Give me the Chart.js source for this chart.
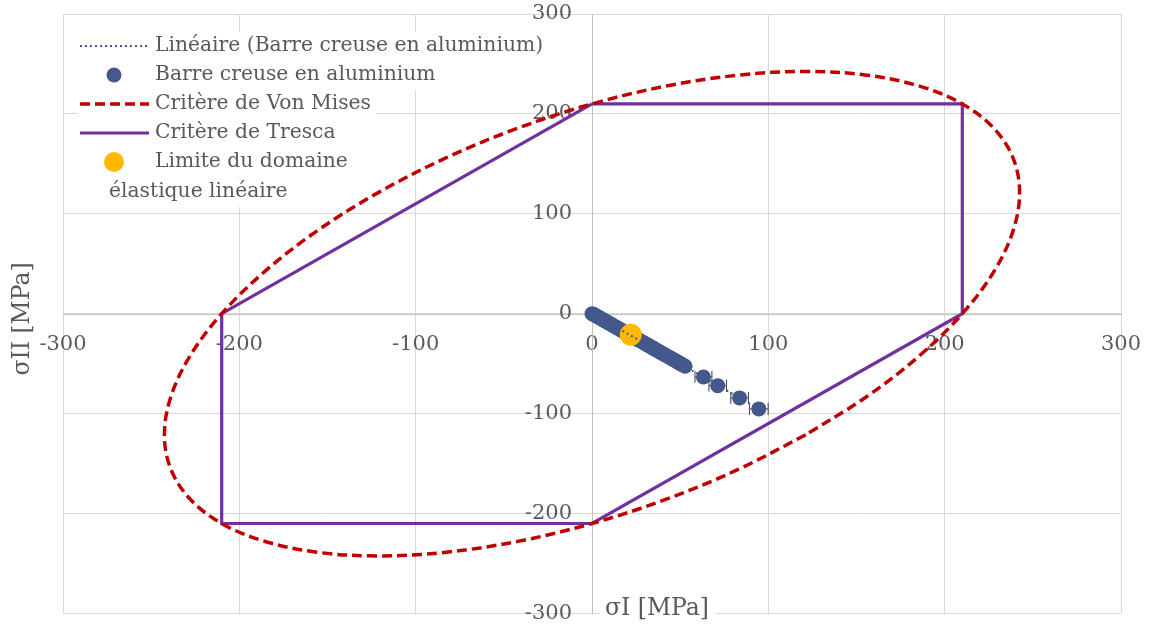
<!DOCTYPE html>
<html>
<head>
<meta charset="utf-8">
<script src="https://cdn.jsdelivr.net/npm/chart.js@4.4.0/dist/chart.umd.min.js"></script>
<style>
  html, body { margin: 0; padding: 0; background: #fff; }
</style>
</head>
<body>
<canvas id="chart" width="1149" height="626"></canvas>
<script>
// graduations des deux axes
const axisTicks = [-300, -200, -100, 0, 100, 200, 300];

// mesures : barre creuse en aluminium (MPa)
const sigmaI = [0, 1.1, 2.3, 3.4, 4.6, 5.9, 7.1, 8.4, 9.6, 10.9, 12.1, 13.4, 14.6, 15.9, 17.2, 18.4,
  19.7, 21.0, 22.3, 23.5, 24.8, 26.1, 27.3, 28.6, 29.9, 31.1, 32.4, 33.7, 34.9, 36.2, 37.5, 38.7,
  40.0, 41.3, 42.5, 43.8, 45.1, 46.3, 47.6, 48.9, 50.1, 51.4, 52.8, 63.2, 71.3, 83.7, 94.6];
const sigmaII = [0, -0.9, -2.1, -3.2, -4.4, -5.7, -6.9, -8.2, -9.4, -10.7, -11.9, -13.2, -14.4, -15.7, -17.0, -18.2,
  -19.5, -20.8, -22.1, -23.3, -24.6, -25.9, -27.1, -28.4, -29.7, -30.9, -32.2, -33.5, -34.7, -36.0, -37.3, -38.5,
  -39.8, -41.1, -42.3, -43.6, -44.9, -46.1, -47.4, -48.7, -49.9, -51.2, -52.6, -63.3, -72.0, -84.3, -95.3];
// incertitude sur sigmaI (barres d'erreur horizontales)
const errI = [0, 0, 0, 0, 0, 0, 0, 0, 0, 0, 0, 0, 0, 0, 0, 0,
  0, 0, 0, 0, 0, 0, 0, 0, 0, 0, 0, 0, 0, 0, 0, 0,
  0, 0, 0, 0, 0, 0, 0, 0, 0, 0, 0, 4.8, 5.0, 5.0, 5.3];

// limite du domaine élastique linéaire
const limitI = [22];
const limitII = [-21];

// courbe de tendance linéaire
const trendI = [0, 94.6];
const trendII = [0.3, -95.2];

// critère de Von Mises (ellipse, Re = 210 MPa), parcourue depuis le petit axe
const vonMisesI = [121.2, 82.9, 42.1, 0, -42.1, -83.0, -121.3, -155.8, -185.8, -210,
  -227.8, -238.8, -242.5, -238.8, -227.9, -210, -185.7, -155.9, -121.2,
  -82.9, -42.1, 0, 42.1, 83.0, 121.3, 155.8, 185.8, 210,
  227.8, 238.8, 242.5, 238.8, 227.9, 210, 185.7, 155.9, 121.2];
const vonMisesII = [-121.2, -155.9, -185.7, -210, -227.9, -238.8, -242.5, -238.8, -227.8, -210,
  -185.8, -155.8, -121.3, -83.0, -42.1, 0, 42.1, 82.9, 121.2,
  155.9, 185.7, 210, 227.9, 238.8, 242.5, 238.8, 227.8, 210,
  185.8, 155.8, 121.3, 83.0, 42.1, 0, -42.1, -82.9, -121.2];

// critère de Tresca (hexagone)
const trescaI = [0, 210, 210, 0, -210, -210, 0];
const trescaII = [210, 210, 0, -210, -210, 0, 210];

const legendLabels = [
  'Linéaire (Barre creuse en aluminium)',
  'Barre creuse en aluminium',
  'Critère de Von Mises',
  'Critère de Tresca',
  'Limite du domaine',
  'élastique linéaire'
];

const blue = '#44588c';
const orange = '#ffb900';
const red = '#c00000';
const purple = '#7030a0';
const grey = '#595959';
const family = 'DejaVu Serif';

const toXY = (xs, ys) => xs.map((x, i) => ({ x, y: ys[i] }));

const overlay = {
  id: 'overlay',
  beforeDatasetsDraw(chart) {
    const { ctx, scales: { x, y } } = chart;
    ctx.save();
    ctx.strokeStyle = '#404040';
    ctx.lineWidth = 1;
    sigmaI.forEach((v, i) => {
      const e = errI[i];
      if (!e) return;
      const py = y.getPixelForValue(sigmaII[i]);
      const x1 = x.getPixelForValue(v - e);
      const x2 = x.getPixelForValue(v + e);
      ctx.beginPath();
      ctx.moveTo(x1, py); ctx.lineTo(x2, py);
      ctx.moveTo(x1, py - 6); ctx.lineTo(x1, py + 6);
      ctx.moveTo(x2, py - 6); ctx.lineTo(x2, py + 6);
      ctx.stroke();
    });
    ctx.restore();
  },
  afterDraw(chart) {
    const ctx = chart.ctx;
    ctx.save();
    ctx.font = '20.3px "' + family + '"';
    ctx.textBaseline = 'middle';
    const rows = [46, 75, 104, 133, 162, 192];
    // fond blanc derrière chaque entrée
    ctx.fillStyle = '#fff';
    rows.forEach((ry, i) => {
      const tx = i === 5 ? 109 : 155;
      const w = ctx.measureText(legendLabels[i]).width;
      const x0 = i === 5 ? 105 : 78;
      ctx.fillRect(x0, ry - 14, tx + w + 5 - x0, 29);
    });
    // symboles
    const line = (ry, color, width, dash) => {
      ctx.beginPath();
      ctx.setLineDash(dash);
      ctx.strokeStyle = color;
      ctx.lineWidth = width;
      ctx.moveTo(80, ry); ctx.lineTo(149, ry);
      ctx.stroke();
      ctx.setLineDash([]);
    };
    const dot = (ry, color, r) => {
      ctx.beginPath();
      ctx.fillStyle = color;
      ctx.arc(114, ry, r, 0, Math.PI * 2);
      ctx.fill();
    };
    line(rows[0], blue, 2, [2, 3]);
    dot(rows[1], blue, 7.5);
    line(rows[2], red, 3.5, [10, 5]);
    line(rows[3], purple, 3.2, []);
    dot(rows[4], orange, 10);
    // textes
    ctx.fillStyle = grey;
    rows.forEach((ry, i) => ctx.fillText(legendLabels[i], i === 5 ? 109 : 155, ry));

    // titres des axes
    ctx.font = '23.5px "' + family + '"';
    const tX = 'σI [MPa]';
    const wX = ctx.measureText(tX).width;
    ctx.fillStyle = '#fff';
    ctx.fillRect(600, 597, wX + 12, 26);
    ctx.fillStyle = grey;
    ctx.fillText(tX, 605, 609);
    ctx.translate(23, 319);
    ctx.rotate(-Math.PI / 2);
    ctx.textAlign = 'center';
    ctx.fillText('σII [MPa]', 0, 0);
    ctx.restore();
  }
};

new Chart(document.getElementById('chart'), {
  type: 'scatter',
  data: {
    datasets: [
      { label: legendLabels[0], data: toXY(trendI, trendII), showLine: true, borderColor: blue,
        borderWidth: 2, borderDash: [2, 3], pointRadius: 0 },
      { label: legendLabels[4], data: toXY(limitI, limitII), backgroundColor: orange,
        pointRadius: 11, pointBorderWidth: 0 },
      { label: legendLabels[1], data: toXY(sigmaI, sigmaII), backgroundColor: blue,
        pointRadius: 7.5, pointBorderWidth: 0 },
      { label: legendLabels[2], data: toXY(vonMisesI, vonMisesII), showLine: true, borderColor: red,
        borderWidth: 3.5, borderDash: [10, 5], pointRadius: 0, tension: 0.35 },
      { label: legendLabels[3], data: toXY(trescaI, trescaII), showLine: true, borderColor: purple,
        borderWidth: 3.2, pointRadius: 0 }
    ]
  },
  options: {
    responsive: false,
    animation: false,
    events: [],
    devicePixelRatio: 1,
    layout: { padding: { left: 63, right: 28, top: 14, bottom: 12 } },
    plugins: { legend: { display: false }, tooltip: { enabled: false } },
    scales: {
      x: {
        type: 'linear', position: 'center', min: -300, max: 300,
        afterBuildTicks: s => { s.ticks = axisTicks.map(v => ({ value: v })); },
        ticks: { color: grey, font: { family, size: 21 }, autoSkip: false, maxRotation: 0, padding: 0 },
        grid: { color: '#d9d9d9', tickLength: 18, tickColor: 'rgba(0,0,0,0)' },
        border: { color: '#bfbfbf' }
      },
      y: {
        type: 'linear', position: 'center', min: -300, max: 300,
        afterBuildTicks: s => { s.ticks = axisTicks.map(v => ({ value: v })); },
        ticks: { color: grey, font: { family, size: 21 }, autoSkip: false, padding: 0 },
        grid: { color: '#d9d9d9', tickLength: 20, tickColor: 'rgba(0,0,0,0)' },
        border: { color: '#bfbfbf' }
      }
    }
  },
  plugins: [overlay]
});
</script>
</body>
</html>
